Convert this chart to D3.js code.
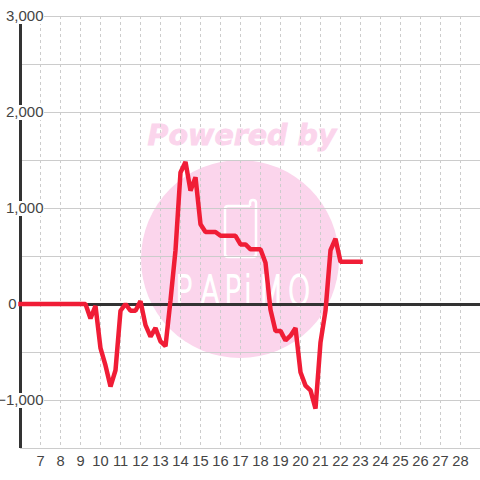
<!DOCTYPE html>
<html><head><meta charset="utf-8">
<script src="https://cdnjs.cloudflare.com/ajax/libs/d3/7.8.5/d3.min.js"></script>
<style>html,body{margin:0;padding:0;background:#fff}svg{display:block}text{font-family:"Liberation Sans",Arial,sans-serif}</style>
</head><body><svg id="c" width="480" height="480"></svg>
<script>
const startHour = 6, stepHour = 0.25;
const values = [0,0,0,0,0,0,0,0,0,0,0,0,0,0,
 -150,-20,-460,-640,-860,-690,-70,0,-70,-70,30,-220,-340,-250,-390,-440,40,560,1370,1480,1180,1320,830,750,750,750,710,710,710,710,620,620,570,570,570,430,-60,-280,-280,-380,-330,-250,-710,-850,-900,-1090,-400,-70,560,680,440,440,440,440,440];
const xTicks = d3.range(7,29);
const yTicks = [-1000,0,1000,2000,3000];
const yGrid = [-1500,-1000,-500,0,500,1000,1500,2000,2500,3000];
const watermarkTop = "Powered by";
const brandLetters = ["P","A","P","i","M","O"];
const brandCenters = [184,210,233,248,271,299];

const svg = d3.select("#c");
const x = d3.scaleLinear().domain([6,29]).range([20,480]);
const y = d3.scaleLinear().domain([3000,-1500]).range([16,448]);
const pink = "#fbd5ec";

const wm = svg.append("g");
wm.append("circle").attr("cx",240).attr("cy",259).attr("r",99).attr("fill",pink);
wm.append("text").attr("x",242).attr("y",145).attr("text-anchor","middle")
  .attr("font-size",28.5).attr("font-weight","bold").attr("font-style","italic")
  .style("font-family","'DejaVu Sans'").attr("fill",pink).attr("stroke",pink).attr("stroke-width",.8).text(watermarkTop);
wm.append("path").attr("d","M250 206H228Q225 206 225 209V254Q225 257 228 257H253Q256 257 256 254V203Q256 200 253 200Q250 200 250 203V206")
  .attr("fill","none").attr("stroke","#fff").attr("stroke-width",2.5);
wm.selectAll("text.brand").data(brandLetters).join("text").attr("class","brand")
  .attr("transform",(d,i)=>`translate(${brandCenters[i]},305) scale(.72,1)`)
  .attr("text-anchor","middle").attr("font-size",40).attr("font-weight",200)
  .style("font-family","'DejaVu Sans'").attr("fill","#fff").attr("stroke","#fff").attr("stroke-width",1.8).text(d=>d);

// grid
svg.append("g").selectAll("line").data(yGrid).join("line")
  .attr("x1",20).attr("x2",480).attr("y1",d=>Math.round(y(d))+.5).attr("y2",d=>Math.round(y(d))+.5)
  .attr("stroke","#ccc").attr("stroke-width",1);
svg.append("g").selectAll("line").data(xTicks).join("line")
  .attr("x1",d=>x(d)+.5).attr("x2",d=>x(d)+.5).attr("y1",16).attr("y2",448)
  .attr("stroke","#ccc").attr("stroke-width",1).attr("stroke-dasharray","3 3");

// axes
svg.append("line").attr("x1",20.5).attr("x2",20.5).attr("y1",16).attr("y2",448).attr("stroke","#333").attr("stroke-width",3);
svg.append("line").attr("x1",20).attr("x2",480).attr("y1",y(0)+.5).attr("y2",y(0)+.5).attr("stroke","#333").attr("stroke-width",3);

// y labels
const yl = svg.append("g").selectAll("g").data(yTicks).join("g");
yl.filter(d=>d!==0).append("rect").attr("x",0).attr("width",44).attr("y",d=>y(d)-7-(d===3000?1:0)).attr("height",d=>15+(d===3000?1:0)).attr("fill","#fff");
yl.append("text").attr("x",d=>d===0?16.5:43.5).attr("y",d=>y(d)+5).attr("text-anchor","end").attr("font-size",15).attr("fill","#444").text(d3.format(","));
// x labels
svg.append("g").selectAll("text").data(xTicks).join("text")
  .attr("x",d=>x(d)+.5).attr("y",465.5).attr("text-anchor","middle").attr("font-size",14.67).attr("fill","#444").text(d=>d);

// series
const line = d3.line().x((d,i)=>x(startHour+i*stepHour)+.5).y(d=>y(d));
svg.append("path").datum(values).attr("d",line).attr("fill","none").attr("stroke","#f01d36").attr("stroke-width",4.5).attr("stroke-linejoin","bevel").attr("stroke-linecap","square");
</script></body></html>
